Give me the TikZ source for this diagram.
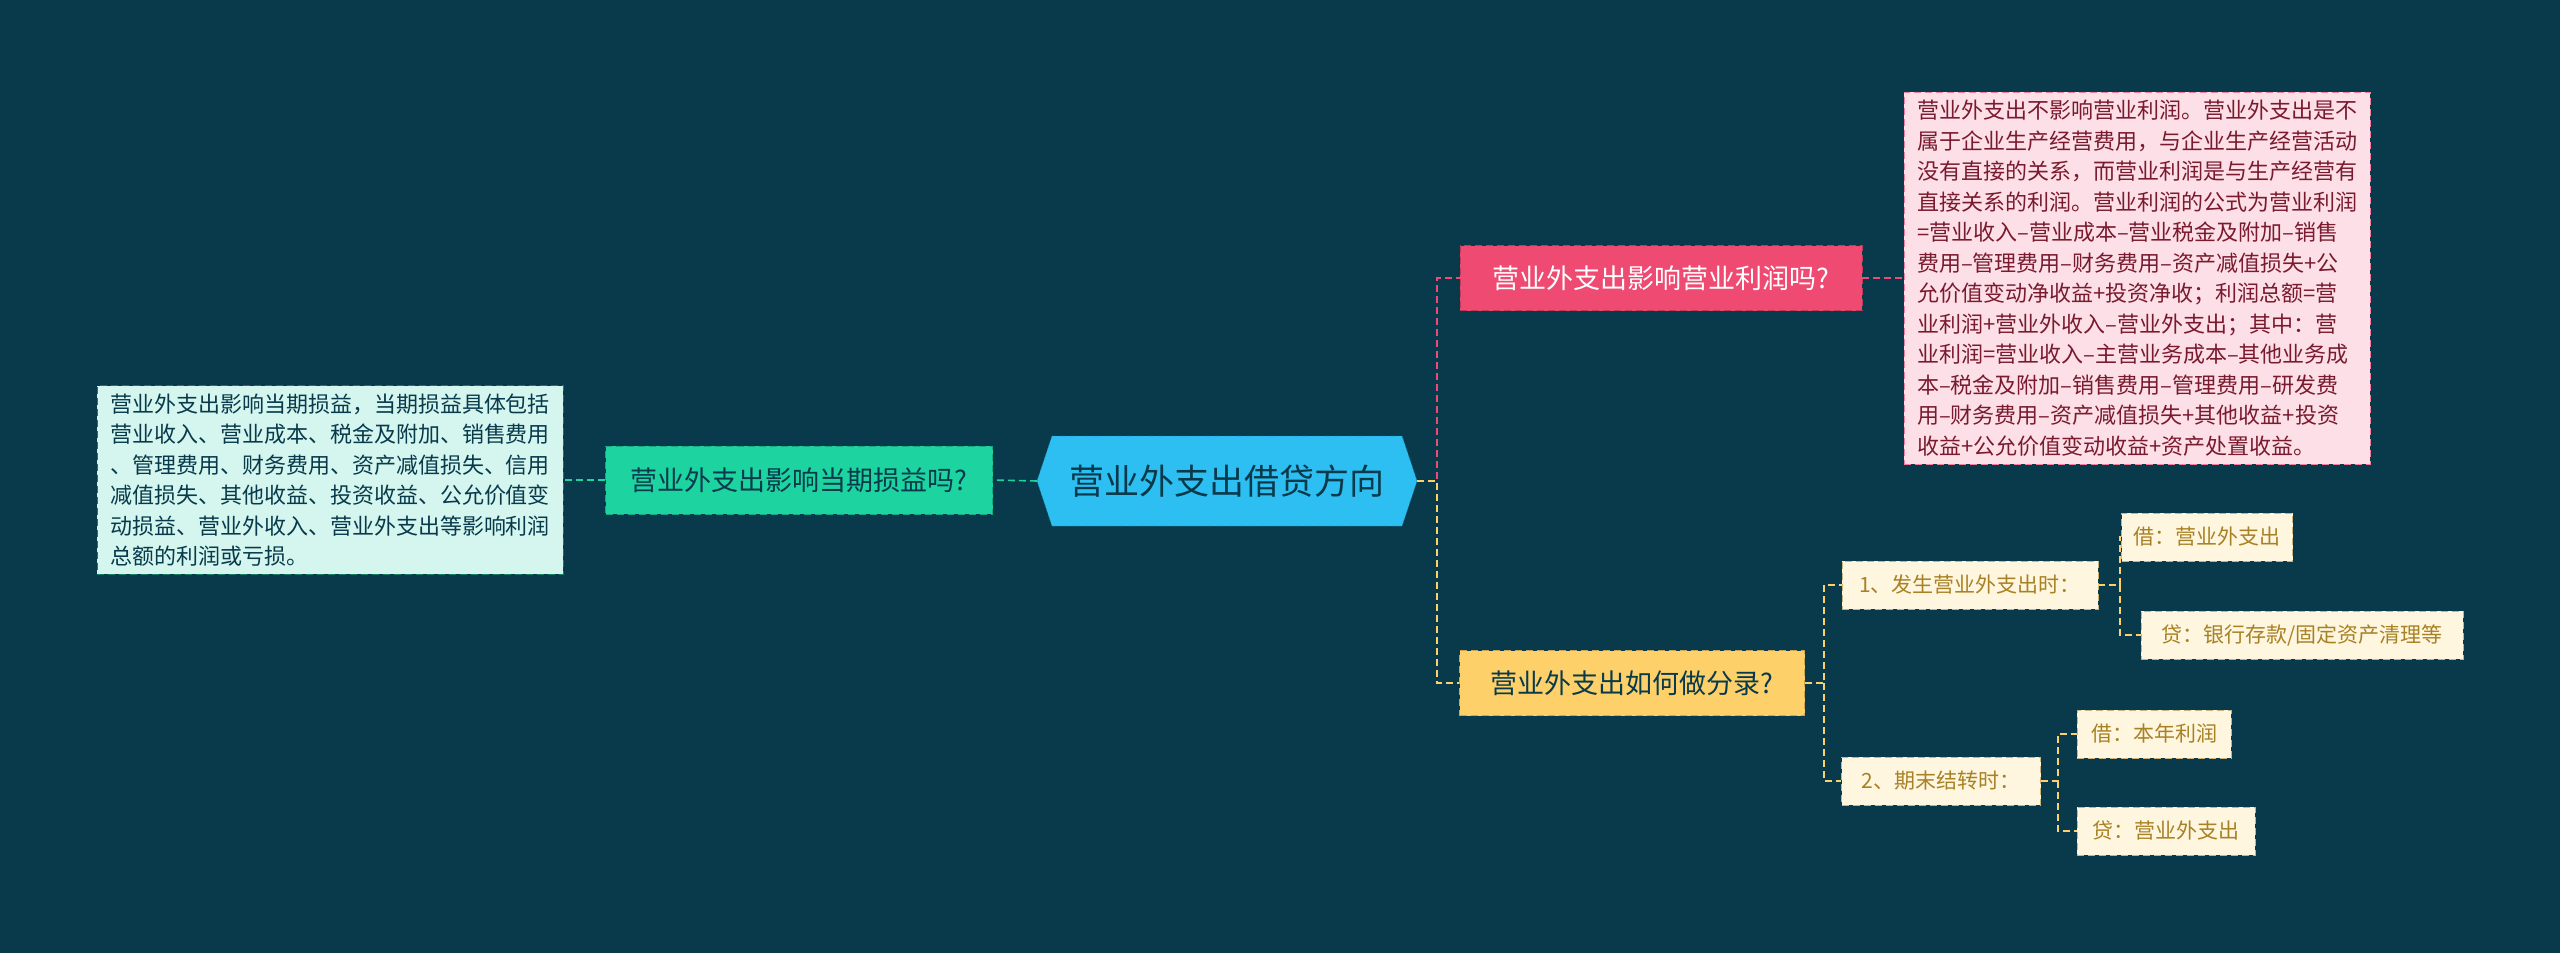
\documentclass[tikz,border=0pt]{standalone}
\usepackage{fontspec}
\setmainfont{Noto Sans CJK SC}
\usetikzlibrary{backgrounds}
\definecolor{bg}{HTML}{083A4C}
\definecolor{hexc}{HTML}{2DBFF2}
\definecolor{greenc}{HTML}{1DD3A0}
\definecolor{pinkc}{HTML}{EE4A72}
\definecolor{yelc}{HTML}{FDD069}
\definecolor{lyel}{HTML}{FEF6DF}
\definecolor{ytext}{HTML}{A88124}
\definecolor{lpink}{HTML}{FDE0E7}
\definecolor{ptext}{HTML}{7A1A2E}
\definecolor{lgreen}{HTML}{D4F6EE}
\tikzset{
 x=1pt,y=-1pt,
 dsh/.style={dash pattern=on 7pt off 4pt},
 mainbox/.style={draw=#1!80!black,dsh,fill=#1,minimum height=65pt,inner xsep=14pt,font=\fontsize{27}{30}\selectfont},
 leaf/.style={draw=ytext!60,dsh,fill=lyel,text=ytext,minimum height=48pt,inner xsep=12pt,font=\fontsize{21}{25}\selectfont},
 bigtext/.style={dsh,align=left,inner xsep=13pt,inner ysep=8pt,font=\fontsize{22}{30.5}\selectfont},
 conn/.style={dsh,line width=1.6pt,#1},
}
\begin{document}
\begin{tikzpicture}
\useasboundingbox[fill=bg] (0,0) rectangle (2560,953);
% hexagon
\fill[hexc,draw=hexc!70!black,dsh] (1037,481)--(1052,436)--(1402,436)--(1417,481)--(1402,526)--(1052,526)--cycle;
\node (c) at (1227,481) [minimum width=380pt,minimum height=90pt,font=\fontsize{35}{40}\selectfont,text=bg] {营业外支出借贷方向};
\node (g) at (799,480) [mainbox=greenc,text=bg,minimum width=387pt,minimum height=68pt] {营业外支出影响当期损益吗?};
\node (gt) at (330,480) [bigtext,draw=greenc!60!black,fill=lgreen,text=bg] {营业外支出影响当期损益，当期损益具体包括\\营业收入、营业成本、税金及附加、销售费用\\、管理费用、财务费用、资产减值损失、信用\\减值损失、其他收益、投资收益、公允价值变\\动损益、营业外收入、营业外支出等影响利润\\总额的利润或亏损。};
\node (p) at (1661,278) [mainbox=pinkc,text=white,minimum width=402pt] {营业外支出影响营业利润吗?};
\node (pt) at (2137,278) [bigtext,draw=pinkc!70,fill=lpink,text=ptext] {营业外支出不影响营业利润。营业外支出是不\\属于企业生产经营费用，与企业生产经营活动\\没有直接的关系，而营业利润是与生产经营有\\直接关系的利润。营业利润的公式为营业利润\\=营业收入–营业成本–营业税金及附加–销售\\费用–管理费用–财务费用–资产减值损失+公\\允价值变动净收益+投资净收；利润总额=营\\业利润+营业外收入–营业外支出；其中：营\\业利润=营业收入–主营业务成本–其他业务成\\本–税金及附加–销售费用–管理费用–研发费\\用–财务费用–资产减值损失+其他收益+投资\\收益+公允价值变动收益+资产处置收益。};
\node (y) at (1632,683) [mainbox=yelc,text=bg,minimum width=345pt] {营业外支出如何做分录?};
\node (y1) at (1970,585) [leaf,minimum width=256pt] {1、发生营业外支出时：};
\node (y11) at (2207,537) [leaf,minimum width=132pt] {借：营业外支出};
\node (y12) at (2302,635) [leaf,minimum width=322pt] {贷：银行存款/固定资产清理等};
\node (y2) at (1941,781) [leaf,minimum width=199pt] {2、期末结转时：};
\node (y21) at (2154,734) [leaf,minimum width=154pt] {借：本年利润};
\node (y22) at (2166,831) [leaf,minimum width=178pt] {贷：营业外支出};
% connectors
\draw[conn=greenc] (c.west) -- (g.east);
\draw[conn=greenc] (g.west) -- (gt.east);
\draw[conn=pinkc] (1417,481) -- (1437,481) |- (p.west);
\draw[conn=yelc] (1417,481) -- (1437,481) |- (y.west);
\draw[conn=pinkc] (p.east) -- (pt.west);
\draw[conn=yelc] (y.east) -- (1824,683) |- (y1.west);
\draw[conn=yelc] (1824,683) |- (y2.west);
\draw[conn=yelc] (y1.east) -- (2120,585) |- (y11.west);
\draw[conn=yelc] (2120,585) |- (y12.west);
\draw[conn=yelc] (y2.east) -- (2058,781) |- (y21.west);
\draw[conn=yelc] (2058,781) |- (y22.west);
\end{tikzpicture}
\end{document}
